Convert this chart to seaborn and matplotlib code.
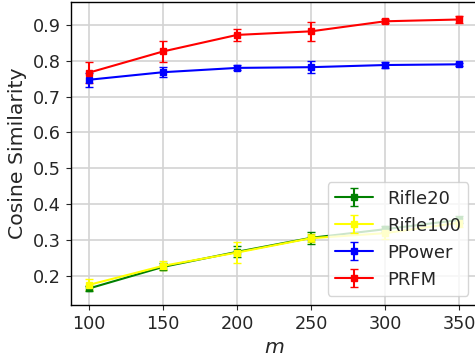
import matplotlib
matplotlib.use("Agg")
import matplotlib.pyplot as plt
import seaborn as sns

# values
m_values = [100, 150, 200, 250, 300, 350]

rifle20 = [0.165, 0.225, 0.267, 0.306, 0.330, 0.356]
rifle20_err = [0.008, 0.010, 0.015, 0.017, 0.008, 0.010]

rifle100 = [0.175, 0.228, 0.265, 0.305, 0.319, 0.348]
rifle100_err = [0.015, 0.012, 0.030, 0.012, 0.015, 0.012]

ppower = [0.747, 0.768, 0.780, 0.782, 0.788, 0.790]
ppower_err = [0.020, 0.014, 0.007, 0.016, 0.008, 0.005]

prfm = [0.767, 0.826, 0.872, 0.882, 0.910, 0.915]
prfm_err = [0.030, 0.030, 0.017, 0.027, 0.005, 0.010]

series = [
    ("Rifle20", rifle20, rifle20_err, "green"),
    ("Rifle100", rifle100, rifle100_err, "yellow"),
    ("PPower", ppower, ppower_err, "blue"),
    ("PRFM", prfm, prfm_err, "red"),
]

sns.set_style("white")
plt.rcParams["font.family"] = ["DejaVu Sans"]

fig = plt.figure(figsize=(4.75, 3.58), dpi=100)
ax = fig.add_axes([0.149, 0.148, 0.856, 0.846])

for name, vals, errs, color in series:
    ax.errorbar(m_values, vals, yerr=errs, color=color, marker="s",
                markersize=5, linewidth=1.5, capsize=3, label=name)

ax.set_xticks(m_values)
ax.set_yticks([0.2, 0.3, 0.4, 0.5, 0.6, 0.7, 0.8, 0.9])
ax.tick_params(axis="both", labelsize=12.7, length=3.5, left=True, bottom=True)
ax.set_xlabel("$m$", fontsize=14.7)
ax.set_ylabel("Cosine Similarity", fontsize=14.7)
ax.grid(True, color="lightgrey", linewidth=1.2)
for s in ax.spines.values():
    s.set_color("black")
    s.set_linewidth(1.0)

ax.legend(loc="lower right", fontsize=13, framealpha=0.8, handlelength=2.1)

fig.savefig("out.png", dpi=100)
